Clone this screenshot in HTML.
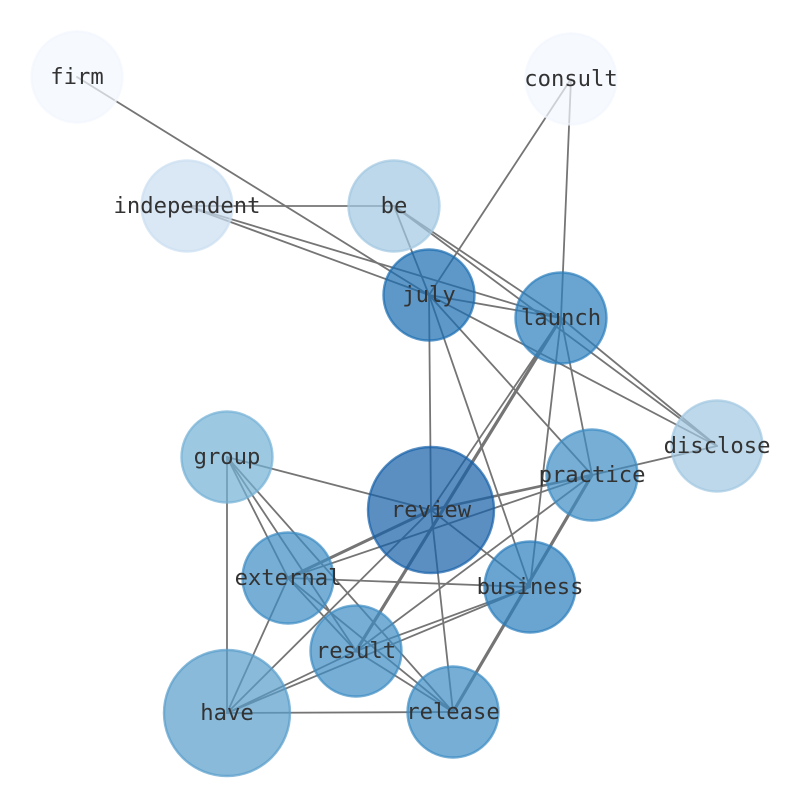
<!DOCTYPE html>
<html>
<head>
<meta charset="utf-8">
<style>
  html, body { margin: 0; padding: 0; background: #ffffff; }
  svg { display: block; }
  text { font-family: "DejaVu Sans Mono", "Liberation Mono", monospace; font-size: 22.2px; fill: #333333; text-anchor: middle; }
</style>
</head>
<body>
<svg width="794" height="790" viewBox="0 0 794 790" xmlns="http://www.w3.org/2000/svg">
  <rect x="0" y="0" width="794" height="790" fill="#ffffff"/>
  <g stroke="#757575" stroke-width="1.8" fill="none" stroke-linecap="round">
    <!-- firm -->
    <line x1="77" y1="77" x2="429" y2="295"/>
    <!-- consult -->
    <line x1="571" y1="79" x2="429" y2="295"/>
    <line x1="571" y1="79" x2="561" y2="318"/>
    <!-- independent -->
    <line x1="187" y1="206" x2="394" y2="206"/>
    <line x1="187" y1="206" x2="429" y2="295"/>
    <line x1="187" y1="206" x2="561" y2="318"/>
    <!-- be -->
    <line x1="394" y1="206" x2="429" y2="295"/>
    <line x1="394" y1="206" x2="561" y2="318"/>
    <line x1="394" y1="206" x2="717" y2="446"/>
    <!-- july -->
    <line x1="429" y1="295" x2="561" y2="318"/>
    <line x1="429" y1="295" x2="717" y2="446"/>
    <line x1="429" y1="295" x2="431" y2="510"/>
    <line x1="429" y1="295" x2="592" y2="475"/>
    <line x1="429" y1="295" x2="530" y2="587"/>
    <!-- launch -->
    <line x1="561" y1="318" x2="717" y2="446"/>
    <line x1="561" y1="318" x2="431" y2="510"/>
    <line x1="561" y1="318" x2="592" y2="475"/>
    <line x1="561" y1="318" x2="530" y2="587"/>
    <!-- practice -->
    <line x1="592" y1="475" x2="717" y2="446"/>
    <line x1="592" y1="475" x2="288" y2="578"/>
    <line x1="592" y1="475" x2="356" y2="651"/>
    <!-- review -->
    <line x1="431" y1="510" x2="227" y2="457"/>
    <line x1="431" y1="510" x2="530" y2="587"/>
    <line x1="431" y1="510" x2="453" y2="712"/>
    <line x1="431" y1="510" x2="227" y2="713"/>
    <!-- external -->
    <line x1="288" y1="578" x2="530" y2="587"/>
    <line x1="288" y1="578" x2="227" y2="713"/>
    <line x1="288" y1="578" x2="356" y2="651"/>
    <line x1="288" y1="578" x2="453" y2="712"/>
    <!-- group -->
    <line x1="227" y1="457" x2="227" y2="713"/>
    <line x1="227" y1="457" x2="288" y2="578"/>
    <line x1="227" y1="457" x2="356" y2="651"/>
    <line x1="227" y1="457" x2="453" y2="712"/>
    <!-- have -->
    <line x1="227" y1="713" x2="453" y2="712"/>
    <line x1="227" y1="713" x2="356" y2="651"/>
    <line x1="227" y1="713" x2="530" y2="587"/>
    <!-- result -->
    <line x1="356" y1="651" x2="530" y2="587"/>
    <line x1="356" y1="651" x2="453" y2="712"/>
  </g>
  <g stroke="#757575" fill="none" stroke-linecap="round">
    <line x1="561" y1="318" x2="356" y2="651" stroke-width="3.2"/>
    <line x1="592" y1="475" x2="453" y2="712" stroke-width="3.2"/>
    <line x1="592" y1="475" x2="431" y2="510" stroke-width="2.6"/>
    <line x1="431" y1="510" x2="288" y2="578" stroke-width="3"/>
  </g>
  <!-- nodes -->
  <g stroke-width="2.4">
    <circle cx="77" cy="77" r="45.5" fill="#f2f7fe" stroke="#f2f7fe" fill-opacity="0.7" stroke-opacity="0.7"/>
    <circle cx="571" cy="79" r="45.5" fill="#f2f7fe" stroke="#f2f7fe" fill-opacity="0.7" stroke-opacity="0.7"/>
    <circle cx="187" cy="206" r="45.5" fill="#cbdef1" stroke="#cbdef1" fill-opacity="0.7" stroke-opacity="0.7"/>
    <circle cx="394" cy="206" r="45.5" fill="#a1c7e1" stroke="#a1c7e1" fill-opacity="0.7" stroke-opacity="0.7"/>
    <circle cx="717" cy="446" r="45.5" fill="#a1c7e1" stroke="#a1c7e1" fill-opacity="0.7" stroke-opacity="0.7"/>
    <circle cx="429" cy="295" r="45.5" fill="#1a6cb0" stroke="#1a6cb0" fill-opacity="0.7" stroke-opacity="0.7"/>
    <circle cx="561" cy="318" r="45.5" fill="#2b7ebc" stroke="#2b7ebc" fill-opacity="0.7" stroke-opacity="0.7"/>
    <circle cx="227" cy="457" r="45.5" fill="#73b0d5" stroke="#73b0d5" fill-opacity="0.7" stroke-opacity="0.7"/>
    <circle cx="431" cy="510" r="63" fill="#1560a8" stroke="#1560a8" fill-opacity="0.7" stroke-opacity="0.7"/>
    <circle cx="592" cy="475" r="45.5" fill="#3c8bc3" stroke="#3c8bc3" fill-opacity="0.7" stroke-opacity="0.7"/>
    <circle cx="288" cy="578" r="45.5" fill="#3c8bc3" stroke="#3c8bc3" fill-opacity="0.7" stroke-opacity="0.7"/>
    <circle cx="530" cy="587" r="45.5" fill="#2b7ebc" stroke="#2b7ebc" fill-opacity="0.7" stroke-opacity="0.7"/>
    <circle cx="356" cy="651" r="45.5" fill="#3c8bc3" stroke="#3c8bc3" fill-opacity="0.7" stroke-opacity="0.7"/>
    <circle cx="227" cy="713" r="63" fill="#579dca" stroke="#579dca" fill-opacity="0.7" stroke-opacity="0.7"/>
    <circle cx="453" cy="712" r="45.5" fill="#3c8bc3" stroke="#3c8bc3" fill-opacity="0.7" stroke-opacity="0.7"/>
  </g>
  <!-- labels -->
  <g>
    <text x="77" y="84">firm</text>
    <text x="571" y="86">consult</text>
    <text x="187" y="213">independent</text>
    <text x="394" y="213">be</text>
    <text x="429" y="302">july</text>
    <text x="561" y="325">launch</text>
    <text x="717" y="453">disclose</text>
    <text x="227" y="464">group</text>
    <text x="431" y="517">review</text>
    <text x="592" y="482">practice</text>
    <text x="288" y="585">external</text>
    <text x="530" y="594">business</text>
    <text x="356" y="658">result</text>
    <text x="227" y="720">have</text>
    <text x="453" y="719">release</text>
  </g>
</svg>
</body>
</html>
